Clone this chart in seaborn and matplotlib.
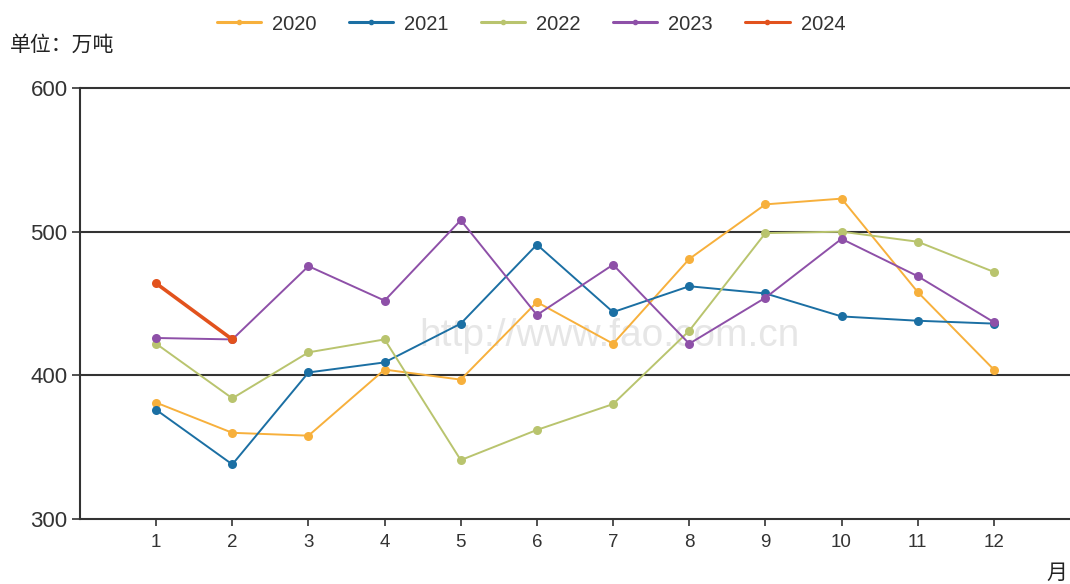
import matplotlib
matplotlib.use("Agg")
import matplotlib.pyplot as plt
from matplotlib.lines import Line2D
import seaborn as sns
import pandas as pd

months = list(range(1, 13))
years = ["2020", "2021", "2022", "2023", "2024"]
v2020 = [381, 360, 358, 404, 397, 451, 422, 481, 519, 523, 458, 404]
v2021 = [376, 338, 402, 409, 436, 491, 444, 462, 457, 441, 438, 436]
v2022 = [422, 384, 416, 425, 341, 362, 380, 431, 499, 500, 493, 472]
v2023 = [426, 425, 476, 452, 508, 442, 477, 422, 454, 495, 469, 437]
v2024 = [464, 425]
colors = ["#F7B03C", "#1B6FA3", "#B9C46E", "#8E50A8", "#E2521D"]

series = [v2020, v2021, v2022, v2023, v2024]
rows = []
for y, vals in zip(years, series):
    for m, v in zip(months, vals):
        rows.append({"月": m, "产量": v, "年份": y})
df = pd.DataFrame(rows)

sns.set_theme(style="white")
plt.rcParams["font.family"] = ["Liberation Sans", "Noto Sans CJK SC", "DejaVu Sans"]

fig = plt.figure(figsize=(10.7, 5.84), dpi=100)
ax = fig.add_axes([80 / 1070, 1 - 519 / 584, 990 / 1070, (519 - 88) / 584])

# faint site watermark behind the data
ax.text(0.535, 0.425, "http://www.fao.com.cn", transform=ax.transAxes, fontsize=28,
        color="#e6e6e6", ha="center", va="center", zorder=0)

for y, c in zip(years, colors):
    d = df[df["年份"] == y]
    lw = 2.6 if y == "2024" else 1.4
    sns.lineplot(data=d, x="月", y="产量", ax=ax, color=c, linewidth=lw,
                 marker="o", markersize=6.5, markeredgewidth=0, legend=False,
                 zorder=3 if y != "2024" else 4)

ax.set_xlim(0, 13)
ax.set_ylim(300, 600)
ax.set_xticks(months)
ax.set_xticklabels([str(m) for m in months])
ax.set_yticks([300, 400, 500, 600])
ax.set_xlabel("")
ax.set_ylabel("")

for yv in [400, 500, 600]:
    ax.axhline(yv, color="#333333", linewidth=1.5, zorder=2, clip_on=False)

for s in ["top", "right"]:
    ax.spines[s].set_visible(False)
for s in ["left", "bottom"]:
    ax.spines[s].set_color("#333333")
    ax.spines[s].set_linewidth(1.5)

ax.tick_params(axis="y", direction="out", length=6, width=1.2, color="#333333",
               labelsize=16, labelcolor="#333333", pad=3, left=True)
ax.tick_params(axis="x", direction="out", length=5, width=1.2, color="#333333",
               labelsize=13.5, labelcolor="#333333", pad=6, bottom=True)

fig.text(10 / 1070, 1 - 45 / 584, "单位：万吨", fontsize=15, color="#222222",
         va="center", ha="left")
fig.text(1057 / 1070, 1 - 573 / 584, "月", fontsize=15, color="#222222",
         va="center", ha="center")

handles = [Line2D([0], [0], color=c, linewidth=2.2, marker="o", markersize=3)
           for c in colors]
fig.legend(handles, years, loc="center", bbox_to_anchor=(531 / 1070, 1 - 24 / 584),
           ncol=5, frameon=False, fontsize=14.5, handlelength=2.2,
           columnspacing=1.6, handletextpad=0.55, labelcolor="#333333")

fig.savefig("out.png", dpi=100)
